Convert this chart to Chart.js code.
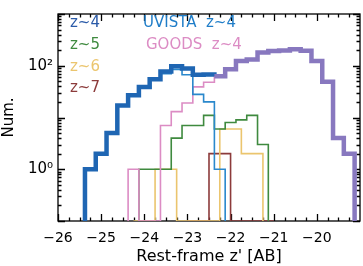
<!DOCTYPE html>
<html>
<head>
<meta charset="utf-8">
<script src="https://cdn.jsdelivr.net/npm/chart.js@4"></script>
<style>
  html, body { margin: 0; padding: 0; background: #fff; }
  canvas { display: block; }
</style>
</head>
<body>
<canvas id="histChart" width="363" height="266"></canvas>
<script>
/* Histogramm-Werte: jede Serie = linke Kante, Bin-Breite, Anzahlen */
const allZ4Start = -25.375;
const allZ4Width = 0.25;
const allZ4Counts = [1, 2, 5, 17, 27, 39, 55, 77, 98, 88, 67, 68, 63, 86, 124, 132, 181, 192, 197, 209, 195, 123, 49, 4, 2];

const uvistaStart = -25.375;
const uvistaWidth = 0.25;
const uvistaCounts = [1, 2, 5, 17, 26, 39, 55, 70, 85, 67, 28, 20, 1];

const goodsStart = -24.375;
const goodsWidth = 0.25;
const goodsCounts = [1, 0, 0, 7, 13, 19, 39, 48, 62, 86, 124, 132, 181, 192, 197, 209, 195, 123, 49, 4, 2];

const z5Start = -24.125;
const z5Width = 0.25;
const z5Counts = [1, 1, 1, 4, 7, 7, 11, 6, 8, 9, 11, 3];

const z6Start = -24.25;
const z6Width = 0.5;
const z6Counts = [0, 1, 0, 0, 6, 2];

const z7Start = -23.0;
const z7Width = 0.5;
const z7Counts = [0, 2, 0, 0];

const xTickValues = [-26, -25, -24, -23, -22, -21, -20];
const yLabelValues = [1, 100];
const yLabelTexts = ['10\u2070', '10\u00b2'];

const Y_MIN = 0.1;
const Y_MAX = 1000;
const PURPLE_FROM = -22.375; // ab hier ist die dicke Linie lila

const legendItems = [
    { text: 'z~4', color: '#2a5aa8', x: 70, y: 23 },
    { text: 'z~5', color: '#3f8a3f', x: 70, y: 45 },
    { text: 'z~6', color: '#ebc56e', x: 70, y: 67 },
    { text: 'z~7', color: '#8c3b3b', x: 70, y: 88 },
    { text: 'UVISTA  z~4', color: '#1f7dc8', x: 143, y: 23 },
    { text: 'GOODS  z~4', color: '#dc8cc4', x: 146, y: 45 },
];

/**
 * Baut die Stufenpunkte eines Histogramms (Start und Ende am Boden).
 */
function histPoints(start, width, counts) {
    const pts = [{ x: start, y: Y_MIN }];
    counts.forEach((c, i) => pts.push({ x: start + i * width, y: c > 0 ? c : Y_MIN }));
    pts.push({ x: start + counts.length * width, y: Y_MIN });
    return pts;
}

function histDataset(points, color, width) {
    return {
        data: points,
        borderColor: color,
        borderWidth: width,
        stepped: 'before',
        pointRadius: 0,
        fill: false,
        borderJoinStyle: 'miter',
        borderCapStyle: 'butt',
    };
}

/* Rahmen + nach innen zeigende Ticks auf allen vier Seiten */
const frameTicks = {
    id: 'frameTicks',
    beforeDatasetsDraw(chart) {
        const { ctx, chartArea: a, scales: { x, y } } = chart;
        ctx.save();
        ctx.strokeStyle = '#000';
        ctx.lineWidth = 1.3;
        ctx.strokeRect(a.left, a.top, a.right - a.left, a.bottom - a.top);
        ctx.beginPath();
        for (let v = -26; v <= -19.001; v += 0.25) {
            const px = Math.round(x.getPixelForValue(v)) + 0.5;
            const len = Number.isInteger(v) ? 7 : 3.5;
            ctx.moveTo(px, a.bottom); ctx.lineTo(px, a.bottom - len);
            ctx.moveTo(px, a.top); ctx.lineTo(px, a.top + len);
        }
        for (let d = 0.1; d < Y_MAX * 1.01; d *= 10) {
            for (let m = 1; m <= 9; m++) {
                const v = d * m;
                if (v > Y_MAX * 1.001) break;
                const py = Math.round(y.getPixelForValue(v)) + 0.5;
                const len = m === 1 ? 7 : 3.5;
                ctx.moveTo(a.left, py); ctx.lineTo(a.left + len, py);
                ctx.moveTo(a.right, py); ctx.lineTo(a.right - len, py);
            }
        }
        ctx.stroke();
        ctx.restore();
    },
    afterDraw(chart) {
        const { ctx } = chart;
        ctx.save();
        ctx.font = '15px "DejaVu Sans"';
        ctx.textBaseline = 'middle';
        ctx.textAlign = 'left';
        legendItems.forEach((item) => {
            ctx.fillStyle = item.color;
            ctx.fillText(item.text, item.x, item.y);
        });
        ctx.restore();
    },
};

const thick = histDataset(histPoints(allZ4Start, allZ4Width, allZ4Counts), '#1f66b3', 4.5);
thick.segment = {
    borderColor: (c) => (c.p0.parsed.x >= PURPLE_FROM - 1e-6 ? '#8878bf' : '#1f66b3'),
};

new Chart(document.getElementById('histChart').getContext('2d'), {
    type: 'line',
    data: {
        datasets: [
            thick,
            histDataset(histPoints(uvistaStart, uvistaWidth, uvistaCounts), '#2a88cc', 1.6),
            histDataset(histPoints(goodsStart, goodsWidth, goodsCounts), '#dc8cc4', 1.6),
            histDataset(histPoints(z5Start, z5Width, z5Counts), '#3f8a3f', 1.6),
            histDataset(histPoints(z6Start, z6Width, z6Counts), '#ebc56e', 1.6),
            histDataset(histPoints(z7Start, z7Width, z7Counts), '#8c3b3b', 1.6),
        ],
    },
    options: {
        responsive: false,
        animation: false,
        layout: { padding: { top: 6, right: 3, left: 0, bottom: 0 } },
        plugins: { legend: { display: false }, tooltip: { enabled: false } },
        scales: {
            x: {
                type: 'linear',
                min: -26,
                max: -19,
                grid: { display: false, drawTicks: false },
                border: { display: false },
                afterBuildTicks: (s) => { s.ticks = xTickValues.map((v) => ({ value: v })); },
                ticks: {
                    autoSkip: false,
                    maxRotation: 0,
                    padding: 9,
                    color: '#000',
                    font: { family: 'DejaVu Sans', size: 14 },
                    callback: (v) => '\u2212' + Math.abs(v),
                },
                title: {
                    display: true,
                    text: "Rest-frame z' [AB]",
                    color: '#000',
                    font: { family: 'DejaVu Sans', size: 16 },
                    padding: 0,
                },
                afterFit: (s) => { s.height = 45; },
            },
            y: {
                type: 'logarithmic',
                min: Y_MIN,
                max: Y_MAX,
                grid: { display: false, drawTicks: false },
                border: { display: false },
                afterBuildTicks: (s) => { s.ticks = yLabelValues.map((v) => ({ value: v })); },
                ticks: {
                    autoSkip: false,
                    padding: 5,
                    color: '#000',
                    font: { family: 'DejaVu Sans', size: 15 },
                    callback: (v) => yLabelTexts[yLabelValues.indexOf(v)] ?? '',
                },
                title: {
                    display: true,
                    text: 'Num.',
                    color: '#000',
                    font: { family: 'DejaVu Sans', size: 15 },
                    padding: 0,
                },
                afterFit: (s) => { s.width = 58; },
            },
        },
    },
    plugins: [frameTicks],
});
</script>
</body>
</html>
